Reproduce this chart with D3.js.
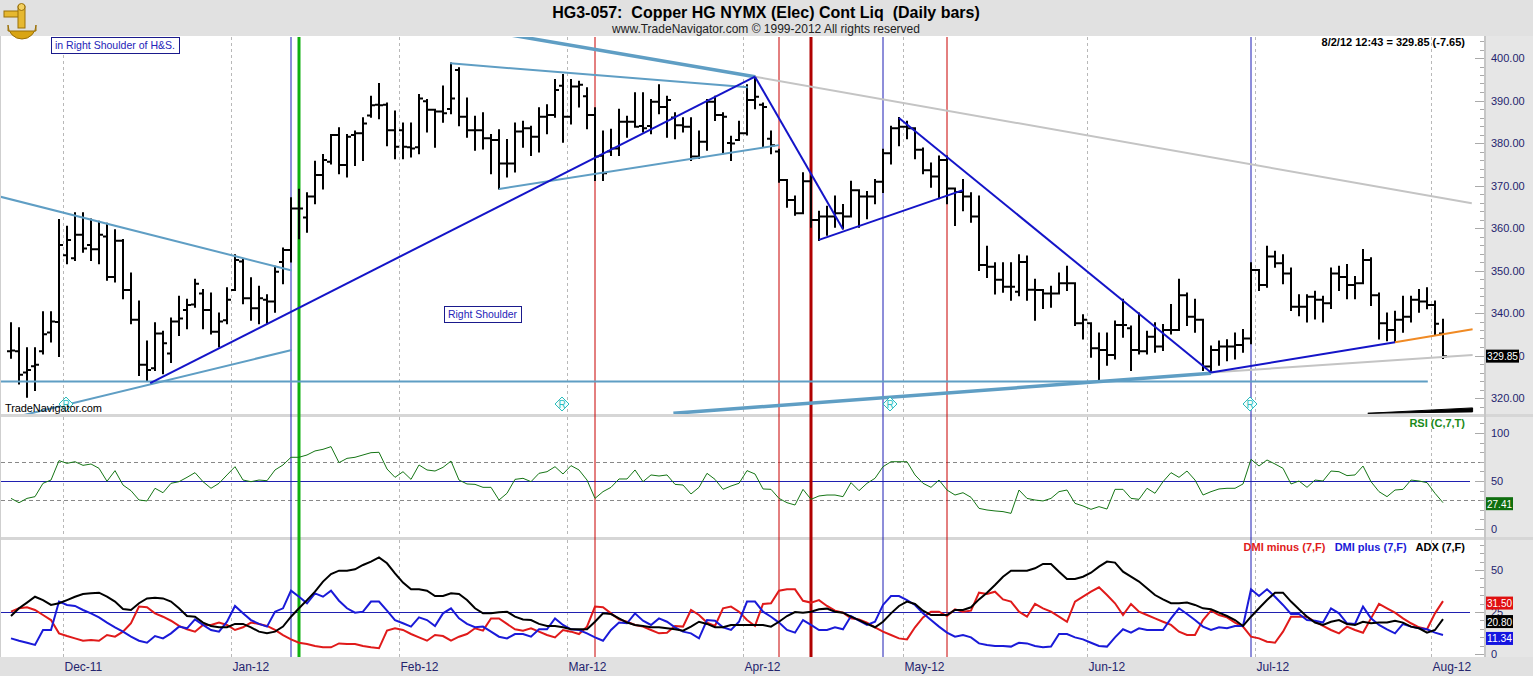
<!DOCTYPE html>
<html>
<head>
<meta charset="utf-8">
<script src="https://cdn.jsdelivr.net/npm/d3@7"></script>
<style>
  body { margin: 0; background: #fff; }
  svg { display: block; font-family: "Liberation Sans", Arial, sans-serif; }
</style>
</head>
<body>
<div id="chart"></div>
<script>
// ---------- data ----------
const firstDay = "2011-11-22"
const lastDay = "2012-08-02"
const holidays = ["2011-12-26", "2012-01-02", "2012-04-06"]

const openP = [331.0,331.0,326.0,327.5,331.0,335.4,337.9,353.6,352.9,358.4,356.0,355.0,358.0,348.5,357.0,345.4,338.4,327.8,327.0,335.2,
  330.5,338.0,340.7,342.0,344.6,340.7,335.6,338.3,345.4,352.1,343.5,341.1,343.1,342.7,352.0,354.8,364.6,362.5,367.4,372.5,
  375.6,381.9,374.8,381.9,382.3,386.5,389.0,389.0,383.0,383.0,379.0,379.0,389.8,387.8,387.4,388.0,397.2,386.2,383.0,383.0,
  381.1,380.7,375.2,375.2,382.7,383.5,381.5,386.2,386.6,393.5,386.2,393.3,391.0,386.6,377.0,378.0,378.7,385.0,385.0,384.0,
  384.0,389.7,388.5,386.0,384.2,383.8,376.8,380.3,389.7,386.6,380.0,380.7,382.3,390.1,389.0,381.0,378.0,371.3,366.6,363.5,
  371.0,361.9,362.7,362.7,363.5,362.7,368.9,367.4,367.4,370.9,377.6,383.5,383.8,383.5,378.4,373.6,372.1,376.0,369.3,368.5,
  367.4,362.7,351.3,350.9,347.8,346.2,345.0,352.0,345.5,345.4,344.6,344.6,347.0,347.0,337.6,337.6,331.7,331.3,330.1,337.2,
  336.4,331.3,331.0,334.4,332.1,336.0,336.0,344.2,339.1,338.4,327.4,331.3,332.1,332.1,332.5,334.0,350.1,346.6,353.3,351.7,
  349.3,341.5,341.5,343.8,343.1,342.3,349.3,348.5,346.6,347.0,352.5,344.2,337.6,336.0,338.4,339.1,343.1,342.7,341.9,335.2]
const highP = [337.6,336.4,331.7,331.7,340.2,340.2,361.9,360.3,363.5,363.5,362.0,361.5,361.0,359.5,357.2,349.3,342.7,333.3,337.6,335.6,
  338.7,343.8,343.1,347.8,345.4,344.6,339.9,345.8,353.6,352.5,348.2,346.2,344.2,350.9,355.2,367.0,369.0,368.2,375.6,377.2,
  381.9,383.5,381.9,382.7,385.8,390.9,393.9,389.3,387.4,384.6,384.6,391.3,390.1,387.8,393.3,398.7,397.6,390.5,386.2,387.0,
  381.9,383.0,380.7,384.6,385.0,383.8,388.2,388.9,394.8,396.0,394.8,394.4,392.9,388.2,382.7,383.1,387.8,386.2,391.7,391.7,
  390.1,393.6,390.9,387.0,385.8,385.8,382.7,390.1,390.9,387.0,381.5,385.0,393.6,395.6,389.3,382.7,378.4,371.3,367.4,372.9,
  372.1,363.8,365.0,367.4,365.4,370.9,368.9,368.5,371.3,378.4,383.8,385.9,385.0,383.5,378.7,375.2,376.8,376.8,369.3,371.3,
  368.2,367.4,355.6,351.7,351.7,351.7,353.6,353.3,347.8,345.4,346.2,349.3,350.9,347.0,339.5,337.6,335.2,335.2,338.0,343.1,
  336.8,339.9,335.6,337.6,337.2,341.9,347.8,344.6,343.1,338.4,332.1,333.3,333.6,335.2,336.0,351.7,350.1,355.6,354.4,353.6,
  350.5,344.2,344.2,345.0,343.8,350.5,350.9,351.3,348.5,354.8,352.9,344.6,339.9,340.3,343.8,343.8,345.4,345.8,342.7,338.4]
const lowP = [329.5,323.4,320.3,321.9,330.5,333.3,329.9,351.7,352.5,354.4,352.5,351.7,347.8,347.4,343.5,337.6,325.4,324.2,326.6,325.8,
  328.5,334.8,336.4,341.5,336.4,335.2,332.1,337.6,345.4,342.3,338.4,337.6,337.6,340.3,347.0,352.1,357.6,359.1,365.8,369.3,
  375.2,372.9,372.1,374.8,376.0,386.2,385.8,379.5,376.4,376.4,376.8,377.6,382.7,379.1,385.0,387.0,384.2,381.5,378.4,378.7,
  372.9,369.3,372.1,373.3,379.1,377.2,378.0,382.3,386.2,380.3,384.6,388.6,383.5,371.3,371.3,377.2,377.2,381.5,383.8,382.7,
  382.3,387.0,381.5,381.1,382.7,376.0,376.5,378.4,385.4,377.6,376.0,380.7,382.0,388.2,379.1,377.6,370.9,365.0,363.1,363.5,
  360.3,357.2,358.4,360.3,359.9,362.7,360.3,362.3,365.8,368.5,375.2,379.5,381.1,376.4,372.9,369.7,367.0,365.8,360.7,364.2,
  361.5,350.1,348.5,344.6,345.0,343.1,344.2,343.1,338.4,341.2,341.5,344.6,345.4,337.2,334.0,329.7,324.2,327.8,329.3,334.4,
  326.6,330.5,330.5,330.9,331.3,335.2,336.0,337.2,335.6,326.6,326.2,327.8,328.9,329.3,330.9,332.9,345.4,346.2,350.9,347.0,
  340.7,339.5,338.0,338.7,338.0,341.2,345.4,343.5,343.5,347.0,341.9,334.0,333.6,333.3,335.6,338.0,340.3,341.1,334.8,329.4]
const closeP = [331.2,325.5,326.6,327.8,335.0,338.0,356.0,357.2,358.4,355.2,355.0,358.4,348.5,357.0,345.4,338.4,327.8,326.6,335.2,332.9,
  338.0,338.7,341.9,346.9,340.7,335.6,338.0,343.1,352.5,343.5,341.1,343.5,342.7,349.7,354.8,364.6,364.6,367.4,372.5,376.0,
  381.9,374.8,381.5,382.3,384.6,388.9,388.9,383.0,379.1,379.1,378.7,390.5,387.8,387.4,387.0,390.5,386.2,383.0,383.0,381.1,
  380.7,375.2,375.2,382.7,383.5,381.5,386.2,386.6,392.5,386.2,393.3,393.7,386.6,376.8,372.9,378.7,385.0,385.0,383.8,383.5,
  389.7,388.5,390.1,384.2,383.8,376.8,380.3,389.7,386.6,386.2,379.9,382.3,390.1,390.9,388.5,379.5,371.3,366.6,363.5,371.0,
  361.9,362.7,362.7,363.5,362.7,368.9,367.4,367.4,370.9,377.6,383.5,383.8,383.5,378.4,373.6,372.1,376.0,369.3,368.5,367.4,
  362.7,351.3,350.9,347.8,346.2,346.2,352.0,345.5,345.4,344.6,344.6,347.0,347.0,337.6,338.4,331.7,331.3,330.1,337.2,337.2,
  331.3,331.0,334.4,332.1,336.0,336.0,344.2,339.1,338.4,327.4,331.3,332.1,332.1,332.5,334.0,350.1,346.6,353.3,351.7,349.3,
  341.5,341.5,343.8,343.1,342.3,349.3,348.5,346.6,347.0,352.5,344.2,337.6,336.0,338.4,339.1,343.1,342.7,341.9,337.5,329.85]

const rsi7 = [31.9,27.4,31.9,33.7,47.6,51,71.2,68.4,70.1,66.3,67.7,63.2,49.7,60.8,45.8,39.9,30.2,29.2,42.4,37.8,
  47.6,49.3,53.8,58.7,49.3,42.4,47.6,56.3,64.9,51,49.3,51,50.3,61.5,66.7,74.7,74.7,77.1,81.3,83,
  85.8,69.1,73.6,74.7,77.1,79.5,79.9,62.5,53.8,59.7,51.7,66.7,61.5,60.4,64.2,70.8,51,46.9,46.5,43.4,
  43.4,30.2,37.2,51.7,52.8,49.3,58,59.7,64.9,57.3,66,61.5,51,31.9,38.9,43.4,52.1,52.1,61.5,49.3,
  56.3,55.2,56.3,46.5,45.8,36.5,43.4,58,51.7,41.3,44.8,47.6,60.8,57.3,41.7,41.3,31.9,27.4,25,41.3,
  30.9,34.4,35.4,35.4,33.7,48.3,39.9,47.6,52.8,64.9,70.1,70.1,70.1,56.3,47.6,43.4,51,40.6,35.4,37.8,
  33,21.5,19.8,18.8,18.1,16.3,40.6,31.9,30.2,29.2,31.9,38.9,40.6,26.7,24,20.5,23.3,20.8,41.3,41.3,
  31.9,30.9,42.4,37.2,49.3,58.7,53.8,60.4,51,35.4,38.9,41.7,42.4,42.4,46.9,72.6,65.6,71.9,67.7,63.2,
  46.9,50,43.4,51,50,60.4,59.7,55.6,56.3,65.6,49.3,38.9,33.7,40.6,41.3,51,50,48.3,37.2,27.41]
const dmiMinus = [25.2,27.2,27.8,26.2,23.2,20.2,12.3,10.7,9.3,7.9,8.3,7.9,11.3,10.3,13.3,18.3,28.2,27.8,24.2,22.2,
  19.8,16.7,14.7,13.3,17.3,17.3,18.7,17.3,14.3,15.9,18.7,17.9,16.7,14.3,11.3,8.7,6.7,6,4.8,4,
  4,6.3,6,6,4.8,4,3.4,13.9,15.3,14.3,11.9,9.9,7.9,11.3,10.7,7.9,10.3,11.9,15.3,13.9,
  21.2,21.2,17.9,14.7,13.9,15.3,13.3,11.3,9.9,14.3,13.3,11.9,16.3,28.2,27.8,24.2,20.6,19.2,17.3,16.3,
  14.3,12.3,12.7,16.7,16.3,26.2,23.2,18.7,16.7,27.2,28.2,25.2,20.2,16.7,29.8,30.2,37.7,38.5,38.5,31.7,
  30.6,32.1,28.6,25.8,24.6,21.2,20.6,18.7,15.9,13.3,11.3,9.3,8.7,15.9,21.8,25.2,25.2,22.6,26.6,25.2,
  25.8,36.5,35.7,37.1,32.5,31.2,25.2,22.2,29.8,27.2,25.2,22.2,19.2,31.2,34.1,37.1,39.7,35.1,30.2,23.2,
  29.8,25.2,23.2,21.2,19.2,17.3,13.3,11.3,11.3,20.2,25.8,23.2,21.8,18.7,16.3,10.3,9.3,7.3,6.7,13.3,
  22.2,22.2,22.2,19.2,16.7,14.3,12.3,16.3,14.3,12.7,21.2,29.8,27.2,24.6,21.2,18.3,15.9,14.7,24.2,31.5]
const dmiPlus = [9.3,7.9,6.7,5.4,14.3,14.3,31.2,29.2,28.6,26.2,24.2,21.8,18.7,15.9,13.3,10.3,7.9,6.7,10.7,9.3,
  12.3,16.3,15.3,20.6,17.3,14.3,13.3,19.2,28.6,24.2,20.2,17.9,16.3,25.2,27.2,37.7,34.1,30.2,36.1,34.1,
  37.7,31.7,27.2,24.6,25.2,31.2,31.2,25.8,20.2,18.3,16.3,21.8,20.2,16.7,24.2,27.2,21.2,17.9,15.9,16.3,
  13.3,10.3,9.3,11.9,11.9,10.3,14.7,14.7,21.2,17.3,14.7,14.3,12.3,9.9,7.9,14.3,18.7,18.3,24.2,19.8,
  17.3,21.2,19.2,15.9,13.3,12.3,9.3,20.2,19.8,15.9,14.3,19.2,31.2,31.2,25.2,22.2,18.7,14.3,12.7,20.2,
  17.3,14.3,14.3,15.9,14.7,22.6,19.8,17.3,19.2,29.2,34.5,34.5,32.1,29.2,24.2,20.2,16.3,12.7,10.3,11.3,
  9.9,6.3,5.4,4.8,4.8,4.4,6.7,6.3,4.8,4,4.4,11.9,11.9,9.9,8.7,6.7,4.8,4.4,9.9,14.7,
  12.7,15.3,14.3,14.3,14.3,21.2,27.2,23.8,20.2,16.3,14.3,15.9,15.3,16.7,16.7,38.5,34.5,38.5,34.1,29.2,
  23.8,23.8,20.2,19.8,18.7,27.2,24.2,18.3,17.9,28.2,21.2,17.3,14.7,12.3,17.9,16.3,15.3,14.7,12.7,11.34]
const adx7 = [22.6,27.2,30.6,34.1,32.1,29.2,30.2,32.1,34.1,35.7,36.1,36.5,34.1,31.2,26.8,26.2,30.2,33.1,33.5,33.1,
  31.2,27.2,22.6,22.2,18.7,16.7,15.9,15.9,17.9,17.9,15.9,13.3,12.3,13.3,16.3,22.2,27.2,32.1,37.1,43.1,
  47.6,49.6,49.6,50.4,53,55,57.5,54,48,42.5,38.5,38.5,37.7,34.5,34.5,36.1,35.7,32.1,27.2,24.2,
  24.2,24.8,25.2,22.2,20.6,20.2,17.9,16.7,16.7,15.9,14.7,14.7,14.7,19.2,24.2,23.8,21.2,18.7,17.3,16.7,
  15.9,15.9,15.3,14.7,13.9,16.3,19.2,17.9,15.9,15.9,17.3,17.3,17.3,17.3,17.3,16.3,19.2,22.6,25,24.6,
  25.2,26.6,27,25.2,24.6,22.2,20.2,17.9,15.9,19.2,24.2,28.6,31.2,29.8,25.8,23.2,23.2,23.2,26.2,26.2,
  27.8,32.5,36.5,41.1,46,49.6,49.6,49.6,51,53.6,53.6,49,44.6,44.6,46,48.4,52,55,54.4,49,
  46,43.1,39.1,35.1,32.5,30.2,30.2,30.6,29.2,27.2,26.6,24.6,22.6,20.2,16.7,22.2,27.2,32.1,36.5,36.5,
  31.2,26.6,22.2,18.7,17.3,19.2,20.2,17.9,17.3,19.2,18.3,18.7,18.7,19.8,18.7,16.3,15.3,12.7,14.3,20.8]

// tick values of the three right-hand axes
const priceTicks = [320, 330, 340, 350, 360, 370, 380, 390, 400]
const rsiTicks = [0, 50, 100]
const dmiTicks = [0, 25, 50]
const rsiBands = [30, 70]
const rsiMid = 50
const dmiMid = 25

// drawn studies: [barIndex0, price0, barIndex1, price1]
const lightBlueLines = [[-1.4, 367.4, 35.1, 350.0], [-1, 314.8, 35.1, 331.3], [54.9, 398.75, 92.1, 393.1], [61, 369.2, 96, 379.5]]
const lightBlueHeavy = [[60, 406.2, 93, 395.6], [82.8, 316.4, 150, 325.8]]
const darkBlueLines = [[17.4, 323.5, 93, 395.6], [93, 395.6, 104, 359.7], [101, 357.2, 119, 368.9], [111, 385.9, 150, 326.0], [150, 326.0, 173, 333.1]]
const grayLines = [[93, 395.6, 182.6, 365.8], [150, 326.0, 182.7, 330.1]]
const orangeLines = [[173, 333.1, 182.7, 336.2]]
const supportLine = [-2, 323.9, 177.1, 323.9]
const blackWedge = [169.6, 316.4, 182.7, 317.2]

// marked days
const blueDays = ["2012-01-12", "2012-04-26", "2012-06-29"]
const greenDays = ["2012-01-13"]
const redDays = ["2012-03-06", "2012-04-09", "2012-05-08"]
const darkRedDays = ["2012-04-13"]
const rMarkers = ["2011-12-01", "2012-02-29", "2012-04-27", "2012-06-29"]

const lastInfo = "8/2/12 12:43 = 329.85 (-7.65)"

// ---------- layout ----------
const W = 1533, H = 676
const plotR = 1485
const pricePanel = { top: 37, bottom: 414 }
const rsiPanel = { top: 417, bottom: 537 }
const dmiPanel = { top: 540, bottom: 657 }
const labelColor = "#24246e"

const parse = d3.utcParse("%Y-%m-%d"), fmt = d3.utcFormat("%Y-%m-%d")
const days = d3.utcDay.range(parse(firstDay), d3.utcDay.offset(parse(lastDay), 1))
  .filter(d => d.getUTCDay() % 6 !== 0 && !holidays.includes(fmt(d)))
  .map(fmt)
const n = days.length

const x = d3.scalePoint().domain(days).range([11, 1443])
const xi = d3.scaleLinear().domain([0, n - 1]).range([x(days[0]), x(days[n - 1])])
const yP = d3.scaleLinear().domain([320, 400]).range([398, 58])
const yR = d3.scaleLinear().domain([0, 100]).range([529, 433])
const yD = d3.scaleLinear().domain([0, 50]).range([654, 570])

const svg = d3.select("#chart").append("svg")
  .attr("width", W).attr("height", H)

// 背景
svg.append("rect").attr("width", W).attr("height", H).attr("fill", "#fff")
svg.append("rect").attr("x", plotR).attr("y", 36).attr("width", W - plotR).attr("height", 621).attr("fill", "#e6e6e6")
svg.append("rect").attr("width", W).attr("height", 36).attr("fill", "#e1e1e1")
svg.append("rect").attr("y", 414).attr("width", W).attr("height", 3).attr("fill", "#d6d6d6")
svg.append("rect").attr("y", 537).attr("width", W).attr("height", 3).attr("fill", "#d6d6d6")
svg.append("rect").attr("y", 657).attr("width", W).attr("height", H - 657).attr("fill", "#e1e1e1")
svg.append("rect").attr("x", plotR - 1).attr("y", 36).attr("width", 2).attr("height", 621).attr("fill", "#c6c6c6")
svg.append("rect").attr("x", 0).attr("y", 36).attr("width", 1).attr("height", 621).attr("fill", "#cfcfcf")

const defs = svg.append("defs")
const panelList = [["clipP", pricePanel], ["clipR", rsiPanel], ["clipD", dmiPanel]]
panelList.forEach(([id, p]) => {
  defs.append("clipPath").attr("id", id).append("rect")
    .attr("x", 1).attr("y", p.top).attr("width", plotR - 2).attr("height", p.bottom - p.top)
})

// month grid
const monthStarts = days.filter((d, i) => i > 0 && d.slice(0, 7) !== days[i - 1].slice(0, 7))
const gridX = d => Math.round(x(d) - x.step() / 2) + 0.5
panelList.forEach(([id, p]) => {
  svg.append("g").selectAll("line").data(monthStarts).join("line")
    .attr("x1", gridX).attr("x2", gridX)
    .attr("y1", p.top).attr("y2", p.bottom)
    .attr("stroke", "#b8b8b8").attr("stroke-dasharray", "3,3")
})
svg.append("g").selectAll("text").data(monthStarts).join("text")
  .attr("x", d => gridX(d) + 1).attr("y", 671)
  .attr("fill", labelColor).style("font-size", "12px")
  .text(d => d3.utcFormat("%b-%y")(parse(d)))

// RSI / DMI reference lines
svg.append("g").selectAll("line").data(rsiBands).join("line")
  .attr("x1", 1).attr("x2", plotR - 2)
  .attr("y1", d => Math.round(yR(d)) + 0.5).attr("y2", d => Math.round(yR(d)) + 0.5)
  .attr("stroke", "#888").attr("stroke-dasharray", "4,3")
svg.append("line").attr("x1", 1).attr("x2", 1470)
  .attr("y1", Math.round(yR(rsiMid)) + 0.5).attr("y2", Math.round(yR(rsiMid)) + 0.5)
  .attr("stroke", "#2020b0")
svg.append("line").attr("x1", 1).attr("x2", 1470)
  .attr("y1", Math.round(yD(dmiMid)) + 0.5).attr("y2", Math.round(yD(dmiMid)) + 0.5)
  .attr("stroke", "#2020b0")

// marked days (vertical lines through every panel)
const vLines = svg.append("g")
const addV = (list, color, w) => vLines.append("g").selectAll("line").data(list).join("line")
  .attr("x1", d => x(d)).attr("x2", d => x(d))
  .attr("y1", 37).attr("y2", 657)
  .attr("stroke", color).attr("stroke-width", w)
addV(blueDays, "#1c1cb4", 1)
addV(redDays, "#c80000", 1)
addV(darkRedDays, "#b00000", 3)
addV(greenDays, "#10b010", 3)

// price bars
const priceG = svg.append("g").attr("clip-path", "url(#clipP)")
const ohlc = days.map((d, i) => ({ d, o: openP[i], h: highP[i], l: lowP[i], c: closeP[i] }))
priceG.append("g").selectAll("path").data(ohlc).join("path")
  .attr("d", b => {
    const cx = x(b.d)
    return `M${cx},${yP(b.h) - 1}V${yP(b.l) + 1}M${cx - 4},${yP(b.o)}H${cx}M${cx},${yP(b.c)}H${cx + 4}`
  })
  .attr("fill", "none").attr("stroke", "#000").attr("stroke-width", 2)

// drawn studies
const seg = (g, list, color, w) => g.append("g").selectAll("line").data(list).join("line")
  .attr("x1", s => xi(s[0])).attr("y1", s => yP(s[1]))
  .attr("x2", s => xi(s[2])).attr("y2", s => yP(s[3]))
  .attr("stroke", color).attr("stroke-width", w)
seg(priceG, [supportLine], "#5f9ec4", 2)
seg(priceG, grayLines, "#c4c4c4", 2)
seg(priceG, lightBlueLines, "#5f9ec4", 2)
seg(priceG, lightBlueHeavy, "#5f9ec4", 3.5)
seg(priceG, darkBlueLines, "#1414c8", 2)
seg(priceG, orangeLines, "#f08a24", 2)
priceG.append("path")
  .attr("d", `M${xi(blackWedge[0])},${yP(blackWedge[1])}L${xi(blackWedge[2])},${yP(blackWedge[3]) - 2}L${xi(blackWedge[2])},${yP(blackWedge[3]) + 2}Z`)
  .attr("fill", "#000").attr("stroke", "#000").attr("stroke-width", 1)

// "R" markers
const mk = priceG.append("g").selectAll("g").data(rMarkers).join("g")
  .attr("transform", d => `translate(${x(d) - 1},404)`)
mk.append("path").attr("d", "M0,-7L7,0L0,7L-7,0Z")
  .attr("fill", "#f2ffff").attr("stroke", "#2cbcbc").attr("stroke-width", 1)
mk.append("text").attr("text-anchor", "middle").attr("y", 4)
  .attr("fill", "#2cbcbc").style("font-size", "10px").text("R")

// annotations
const note = (x0, y0, w, h, t) => {
  svg.append("rect").attr("x", x0 + 0.5).attr("y", y0 + 0.5).attr("width", w).attr("height", h)
    .attr("fill", "#fff").attr("stroke", "#1a1a8c")
  svg.append("text").attr("x", x0 + 4).attr("y", y0 + h - 4)
    .attr("fill", "#2424b8").style("font-size", "11px")
    .attr("textLength", w - 8).attr("lengthAdjust", "spacingAndGlyphs")
    .text(t)
}
note(51, 37, 128, 16, "in Right Shoulder of H&S.")
note(444, 306, 77, 16, "Right Shoulder")
svg.append("text").attr("x", 5).attr("y", 412).attr("fill", "#000")
  .style("font-size", "11px").attr("textLength", 97).text("TradeNavigator.com")

// RSI
svg.append("path").datum(rsi7).attr("clip-path", "url(#clipR)")
  .attr("d", d3.line().x((v, i) => x(days[i])).y(v => yR(v)))
  .attr("fill", "none").attr("stroke", "#157515").attr("stroke-width", 1)

// DMI / ADX
const dLine = d3.line().x((v, i) => x(days[i])).y(v => yD(v))
const dmiG = svg.append("g").attr("clip-path", "url(#clipD)")
dmiG.append("path").datum(dmiMinus).attr("d", dLine).attr("fill", "none").attr("stroke", "#e01a1a").attr("stroke-width", 2)
dmiG.append("path").datum(dmiPlus).attr("d", dLine).attr("fill", "none").attr("stroke", "#1a1ad8").attr("stroke-width", 2)
dmiG.append("path").datum(adx7).attr("d", dLine).attr("fill", "none").attr("stroke", "#000").attr("stroke-width", 2)

// right axes
const rightAxis = (scale, major, minor, f) => {
  const g = svg.append("g")
  g.selectAll(".mn").data(minor).join("line")
    .attr("x1", plotR - 5).attr("x2", plotR - 1)
    .attr("y1", v => Math.round(scale(v)) + 0.5).attr("y2", v => Math.round(scale(v)) + 0.5)
    .attr("stroke", "#aaa")
  g.selectAll(".mj").data(major).join("line")
    .attr("x1", plotR - 10).attr("x2", plotR - 1)
    .attr("y1", v => Math.round(scale(v)) + 0.5).attr("y2", v => Math.round(scale(v)) + 0.5)
    .attr("stroke", "#aaa")
  g.selectAll("text").data(major).join("text")
    .attr("x", 1491).attr("y", v => scale(v) + 4)
    .attr("fill", labelColor).style("font-size", "11px")
    .text(f)
}
rightAxis(yP, priceTicks, d3.range(318, 405, 2), d3.format(".2f"))
rightAxis(yR, rsiTicks, d3.range(0, 120, 10), d => d)
rightAxis(yD, dmiTicks, d3.range(0, 70, 5), d => d)

// last-value tags
const tag = (yc, w, bg, t) => {
  svg.append("rect").attr("x", 1486).attr("y", yc - 6.5).attr("width", w).attr("height", 13).attr("fill", bg)
  svg.append("text").attr("x", 1487).attr("y", yc + 4).attr("fill", "#fff")
    .style("font-size", "11px")
    .attr("textLength", w - 2).attr("lengthAdjust", "spacingAndGlyphs")
    .text(t)
}
tag(yP(closeP[n - 1]), 33, "#000", d3.format(".2f")(closeP[n - 1]))
tag(yR(rsi7[n - 1]) + 1, 27, "#0f6e0f", d3.format(".2f")(rsi7[n - 1]))
tag(yD(dmiMinus[n - 1]) + 2, 27, "#e01010", d3.format(".2f")(dmiMinus[n - 1]))
tag(yD(adx7[n - 1]) + 2.5, 27, "#000", d3.format(".2f")(adx7[n - 1]))
tag(yD(dmiPlus[n - 1]) + 3.5, 27, "#1414e0", d3.format(".2f")(dmiPlus[n - 1]))

// panel titles
svg.append("text").attr("x", 1465).attr("y", 46).attr("text-anchor", "end")
  .style("font-size", "11px").style("font-weight", "bold").text(lastInfo)
svg.append("text").attr("x", 1465).attr("y", 427).attr("text-anchor", "end")
  .attr("fill", "#1a8a1a").style("font-size", "11px").style("font-weight", "bold").text("RSI (C,7,T)")
const leg = svg.append("text").attr("x", 1465).attr("y", 551).attr("text-anchor", "end")
  .style("font-size", "11px").style("font-weight", "bold").style("white-space", "pre")
leg.append("tspan").attr("fill", "#e01a1a").text("DMI minus (7,F)   ")
leg.append("tspan").attr("fill", "#1a1ad8").text("DMI plus (7,F)   ")
leg.append("tspan").attr("fill", "#000").text("ADX (7,F)")

// header
svg.append("text").attr("x", 766).attr("y", 18).attr("text-anchor", "middle")
  .style("font-size", "16px").style("font-weight", "bold").style("white-space", "pre")
  .text("HG3-057:  Copper HG NYMX (Elec) Cont Liq  (Daily bars)")
svg.append("text").attr("x", 766).attr("y", 33).attr("text-anchor", "middle")
  .style("font-size", "12px").attr("fill", "#222")
  .text("www.TradeNavigator.com \u00a9 1999-2012 All rights reserved")

// logo
const logo = svg.append("g").attr("transform", "translate(3,3)")
logo.append("path").attr("d", "M5,22 A14,14 0 0 0 33,22 L33,28 L5,28 Z").attr("fill", "#d9a514").attr("stroke", "#9a7008")
logo.append("rect").attr("x", 1).attr("y", 8).attr("width", 15).attr("height", 6).attr("fill", "#e6b830").attr("stroke", "#9a7008")
logo.append("rect").attr("x", 15).attr("y", 3).attr("width", 7).attr("height", 22).attr("fill", "#e6b830").attr("stroke", "#9a7008")
logo.append("circle").attr("cx", 18.5).attr("cy", 4).attr("r", 3.5).attr("fill", "#f3d060").attr("stroke", "#9a7008")
</script>
</body>
</html>
